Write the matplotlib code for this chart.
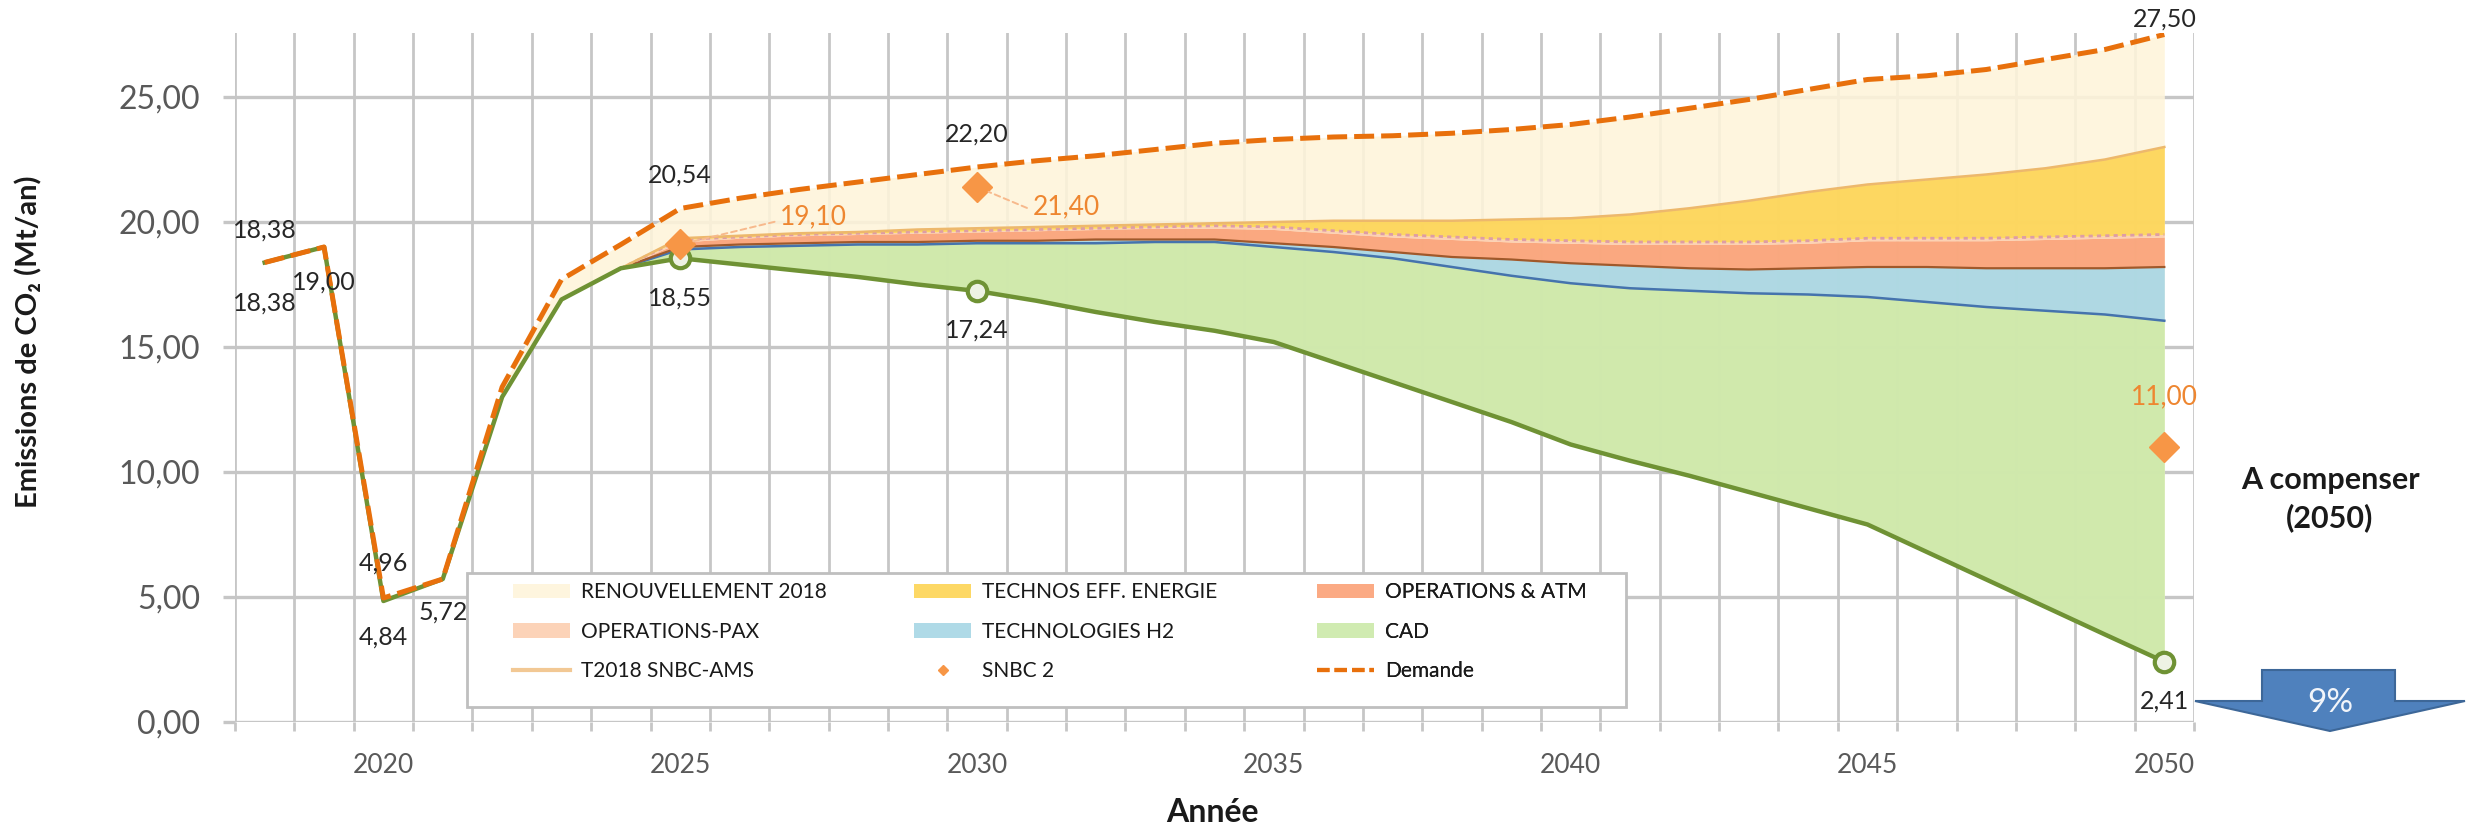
import matplotlib
matplotlib.use("Agg")
import matplotlib.pyplot as plt
from matplotlib.patches import Patch, Rectangle, Polygon
from matplotlib.lines import Line2D
from matplotlib.ticker import FuncFormatter
from matplotlib.colors import to_rgb

plt.rcParams['font.family'] = ['Lato', 'DejaVu Sans']

W, H = 2466, 826

# ---- data (Mt CO2 / an) ----
years = list(range(2018, 2051))

demande = [18.38, 19.00, 4.96, 5.72, 13.4, 17.7, 19.1,
           20.54, 20.95, 21.3, 21.6, 21.9, 22.2, 22.45, 22.65, 22.9, 23.15,
           23.3, 23.4, 23.45, 23.55, 23.7, 23.9, 24.2, 24.55, 24.9, 25.3,
           25.7, 25.85, 26.1, 26.5, 26.9, 27.5]

residuel = [18.38, 19.00, 4.84, 5.72, 13.0, 16.9, 18.15,
            18.55, 18.3, 18.05, 17.8, 17.5, 17.24, 16.85, 16.4, 16.0, 15.65,
            15.2, 14.4, 13.6, 12.8, 12.0, 11.1, 10.45, 9.85, 9.2, 8.55,
            7.9, 6.8, 5.7, 4.6, 3.5, 2.41]

# cumulative levels of the stacked measures, 2024 -> 2050
stack_years = list(range(2024, 2051))
top_cad = [18.15, 18.9, 19.0, 19.05, 19.1, 19.1, 19.15, 19.15, 19.15, 19.2, 19.2,
           19.0, 18.8, 18.55, 18.2, 17.85, 17.55, 17.35, 17.25, 17.15, 17.1,
           17.0, 16.8, 16.6, 16.45, 16.3, 16.05]
top_h2 = [18.15, 19.0, 19.1, 19.15, 19.2, 19.2, 19.25, 19.25, 19.3, 19.3, 19.3,
          19.15, 19.0, 18.8, 18.6, 18.5, 18.35, 18.25, 18.15, 18.1, 18.15,
          18.2, 18.2, 18.15, 18.15, 18.15, 18.2]
top_atm = [18.15, 19.2, 19.35, 19.45, 19.5, 19.55, 19.6, 19.65, 19.7, 19.75, 19.75,
           19.7, 19.55, 19.4, 19.3, 19.2, 19.15, 19.1, 19.1, 19.1, 19.15,
           19.25, 19.25, 19.25, 19.3, 19.35, 19.4]
top_pax = [18.15, 19.3, 19.4, 19.5, 19.55, 19.6, 19.65, 19.7, 19.75, 19.8, 19.85,
           19.8, 19.65, 19.5, 19.4, 19.3, 19.25, 19.2, 19.2, 19.2, 19.25,
           19.35, 19.35, 19.35, 19.4, 19.45, 19.5]
top_eff = [18.15, 19.35, 19.45, 19.55, 19.6, 19.7, 19.75, 19.8, 19.85, 19.9, 19.95,
           20.0, 20.05, 20.05, 20.05, 20.1, 20.15, 20.3, 20.55, 20.85, 21.2,
           21.5, 21.7, 21.9, 22.15, 22.5, 23.0]

snbc_years = [2025, 2030, 2050]
snbc_vals = [19.10, 21.40, 11.00]

label_years_dem = [2018, 2020, 2025, 2030, 2050]
label_years_res = [2018, 2019, 2020, 2021, 2025, 2030, 2050]
marker_years_res = [2025, 2030, 2050]

xtick_years = [2020, 2025, 2030, 2035, 2040, 2045, 2050]

c_renouv = '#FEF5DE'
c_eff = '#FDD865'
c_atm = '#FBAA84'
c_pax = '#FCD3B8'
c_h2 = '#AFDAE7'
c_cad = '#D0EBB1'
c_res = '#6F9234'
c_dem = '#E8700C'
c_snbc = '#F79646'
c_t2018 = '#EDB86C'
c_grid = '#C6C6C6'
FILL_ALPHA = 0.88


def fr(v):
    return f"{v:.2f}".replace('.', ',')


def see_through(color, a=FILL_ALPHA):
    # colour that gives `color` over white at alpha a (grid shows faintly)
    return tuple(min(1, max(0, (c - (1 - a)) / a)) for c in to_rgb(color))


fig = plt.figure(figsize=(W / 100, H / 100), dpi=100)
ax = fig.add_axes([235 / W, 1 - 722 / H, (2194 - 235) / W, (722 - 33) / H])
ax.set_xlim(2017.5, 2050.5)
ax.set_ylim(0, 27.56)

# grid & ticks
ax.set_xticks(xtick_years)
ax.set_xticks([y + 0.5 for y in range(2017, 2051)], minor=True)
ax.set_yticks([0, 5, 10, 15, 20, 25])
ax.yaxis.set_major_formatter(FuncFormatter(lambda v, p: fr(v)))
ax.grid(which='minor', axis='x', color=c_grid, lw=2.0, zorder=0)
ax.grid(which='major', axis='y', color=c_grid, lw=2.4, zorder=0)
ax.tick_params(axis='x', which='major', length=0, pad=22, labelsize=19, labelcolor='#595959')
ax.tick_params(axis='x', which='minor', length=6.5, width=2.0, color=c_grid, direction='out')
ax.tick_params(axis='y', which='major', length=9, width=2.4, color=c_grid, pad=16,
               labelsize=23, labelcolor='#595959')
for s in ax.spines.values():
    s.set_visible(False)
ax.set_axisbelow(True)

# stacked areas
fkw = dict(lw=0, alpha=FILL_ALPHA)
ax.fill_between(years, residuel, demande, color=see_through(c_renouv), zorder=1, **fkw)
res_stack = residuel[years.index(2024):]
ax.fill_between(stack_years, res_stack, top_cad, color=see_through(c_cad), zorder=1.1, **fkw)
ax.fill_between(stack_years, top_cad, top_h2, color=see_through(c_h2), zorder=1.1, **fkw)
ax.fill_between(stack_years, top_h2, top_atm, color=see_through(c_atm), zorder=1.1, **fkw)
ax.fill_between(stack_years, top_atm, top_pax, color=see_through(c_pax), zorder=1.1, **fkw)
ax.fill_between(stack_years, top_pax, top_eff, color=see_through(c_eff), zorder=1.1, **fkw)

ax.plot(stack_years, top_cad, color='#4573AD', lw=1.8, zorder=2)
ax.plot(stack_years, top_h2, color='#A0592B', lw=1.6, zorder=2)
ax.plot(stack_years, top_pax, color='#DE9DA5', lw=2.0, ls=(0, (1.5, 1.5)), zorder=2)
ax.plot(stack_years, top_eff, color=c_t2018, lw=1.8, zorder=2.5)

# lines
ax.plot(years, residuel, color=c_res, lw=3.2, zorder=3)
ax.plot(years, demande, color=c_dem, lw=3.6, ls=(0, (4, 1.4)), zorder=3.5)
ax.plot(marker_years_res, [residuel[years.index(y)] for y in marker_years_res],
        ls='none', marker='o', ms=14, mfc='#EEF2E4', mec=c_res, mew=3, zorder=4)
ax.plot(snbc_years, snbc_vals, ls='none', marker='D', ms=15, color=c_snbc,
        mec=c_snbc, zorder=4.5)

# data labels
lab_kw = dict(textcoords='offset points', ha='center', va='center', fontsize=18,
              color='#262626', zorder=7, annotation_clip=False)
dem_off = {2018: 23, 2020: 25, 2025: 24, 2030: 24, 2050: 11}
for y in label_years_dem:
    v = demande[years.index(y)]
    ax.annotate(fr(v), (y, v), xytext=(0, dem_off[y]), **lab_kw)
res_off = {2018: -29, 2019: -25, 2020: -26, 2021: -24, 2025: -29, 2030: -28, 2050: -28}
for y in label_years_res:
    v = residuel[years.index(y)]
    ax.annotate(fr(v), (y, v), xytext=(0, res_off[y]), **lab_kw)

snbc_off = {2025: (96, 20), 2030: (64, -14), 2050: (0, 36)}
for y, v in zip(snbc_years, snbc_vals):
    kw = dict(lab_kw)
    kw['color'] = '#EE8630'
    kw['fontsize'] = 19
    ap = None
    if y != 2050:
        ap = dict(arrowstyle='-', color='#F7B98C', lw=1.4, ls=(0, (3, 2)),
                  shrinkA=2, shrinkB=9, relpos=(0.0, 0.35))
    ax.annotate(fr(v), (y, v), xytext=snbc_off[y], arrowprops=ap, **kw)

# legend (three columns, framed box)
ax.add_patch(Rectangle((0.1185, 0.022), 0.5915, 0.194, transform=ax.transAxes,
                       facecolor='white', edgecolor='#BFBFBF', lw=2, zorder=5,
                       clip_on=False))
cols = [
    [(Patch(facecolor=c_renouv), 'RENOUVELLEMENT 2018'),
     (Patch(facecolor=c_pax), 'OPERATIONS-PAX'),
     (Line2D([], [], color='#F2C894', lw=3), 'T2018 SNBC-AMS')],
    [(Patch(facecolor=c_eff), 'TECHNOS EFF. ENERGIE'),
     (Patch(facecolor=c_h2), 'TECHNOLOGIES H2'),
     (Line2D([], [], ls='none', marker='D', ms=5, color=c_snbc), 'SNBC 2')],
    [(Patch(facecolor=c_atm), 'OPERATIONS & ATM'),
     (Patch(facecolor=c_cad), 'CAD'),
     (Line2D([], [], color=c_dem, lw=3, ls=(0, (3, 1.2))), 'Demande')],
]
col_x = [0.1419, 0.3467, 0.5523]
for cx, items in zip(col_x, cols):
    leg = ax.legend([h for h, _ in items], [t for _, t in items], loc='upper left',
                    bbox_to_anchor=(cx, 0.2025), frameon=False, fontsize=15,
                    borderpad=0, borderaxespad=0, handlelength=2.75,
                    handletextpad=0.5, labelspacing=0.92, labelcolor='#1A1A1A')
    leg.set_zorder(6)
    ax.add_artist(leg)

# axis titles
fig.text(1212 / W, 1 - 812 / H, 'Année', ha='center', va='center', fontsize=23,
         fontweight='bold', color='#1A1A1A')
fig.text(29 / W, 1 - 342 / H, 'Emissions de CO\u2082 (Mt/an)', rotation=90,
         ha='center', va='center', fontsize=21, fontweight='bold', color='#1A1A1A')

# compensation annotation + arrow
fig.text(2330 / W, 1 - 499 / H, 'A compenser\n(2050)', ha='center', va='center',
         fontsize=22, fontweight='bold', color='#1A1A1A', linespacing=1.35)
arrow_px = [(2262, 670), (2395, 670), (2395, 701), (2465, 701), (2330, 731),
            (2195, 701), (2262, 701)]
fig.patches.append(Polygon([(x / W, 1 - y / H) for x, y in arrow_px], closed=True,
                           transform=fig.transFigure, facecolor='#4F81BD',
                           edgecolor='#3D6798', lw=1.5))
fig.text(2330 / W, 1 - 703 / H, '9%', ha='center', va='center', fontsize=24,
         color='#F2F5FA')

fig.savefig('out.png', dpi=100)
